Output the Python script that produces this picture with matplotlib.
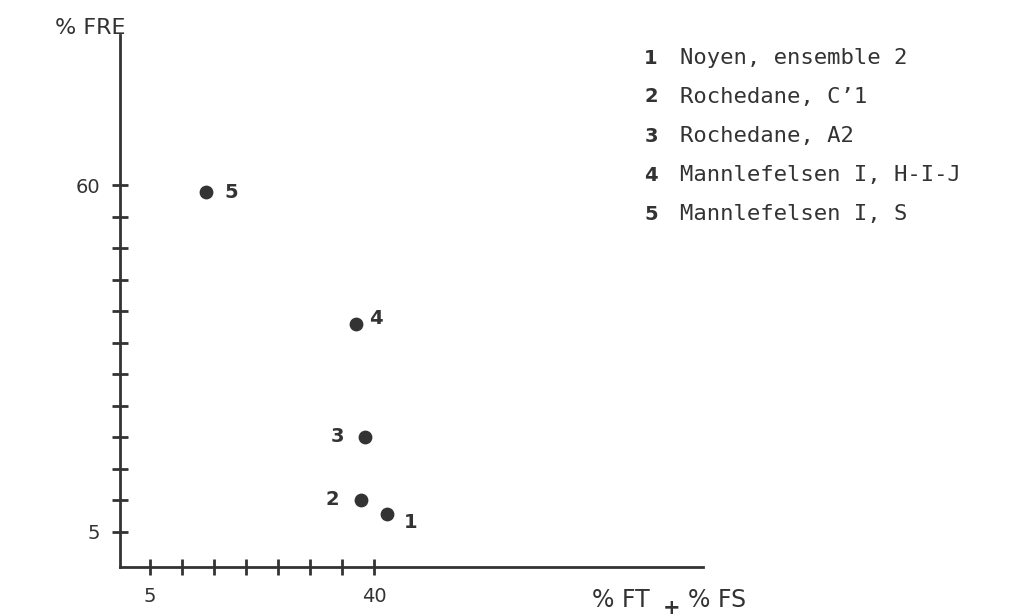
import matplotlib.pyplot as plt

# values
ids = ['1', '2', '3', '4', '5']
sites = ['Noyen, ensemble 2', "Rochedane, C\u20191", 'Rochedane, A2',
         'Mannlefelsen I, H-I-J', 'Mannlefelsen I, S']
ft_fs = [42.1, 37.9, 38.6, 37.2, 13.8]
fre = [7.8, 10.1, 20.1, 37.9, 58.9]
# offsets of the point numbers (points)
lab_dx = [16.5, -20, -19.5, 14.5, 18]
lab_dy = [-6, 0, 0, 4.5, 0]

x_ticks = list(range(5, 41, 5))
y_ticks = list(range(5, 61, 5))

ink = '#333333'

fig = plt.figure(figsize=(10.14, 6.16), dpi=100)
ax = fig.add_axes([120/1014, 49/616, 583/1014, 532/616])
ax.set_xlim(0.4, 91.3)
ax.set_ylim(-0.56, 83.8)

for s in ['top', 'right']:
    ax.spines[s].set_visible(False)
for s in ['left', 'bottom']:
    ax.spines[s].set_linewidth(2)
    ax.spines[s].set_color(ink)

ax.set_xticks(x_ticks)
ax.set_xticklabels(['5' if t == 5 else '40' if t == 40 else '' for t in x_ticks])
ax.set_yticks(y_ticks)
ax.set_yticklabels(['5' if t == 5 else '60' if t == 60 else '' for t in y_ticks])
ax.tick_params(direction='inout', length=11, width=2, color=ink,
               labelsize=14, labelcolor=ink)
ax.tick_params(axis='y', pad=9)
ax.tick_params(axis='x', pad=9)

ax.scatter(ft_fs, fre, s=80, color=ink, zorder=3, clip_on=False)
for i in range(len(ids)):
    ax.annotate(ids[i], (ft_fs[i], fre[i]), xytext=(lab_dx[i], lab_dy[i]),
                textcoords='offset points', ha='center', va='center',
                fontsize=14, color=ink, fontweight='bold')

# axis titles
fig.text(55/1014, 1 - 28/616, '% FRE', fontsize=16, color=ink, va='center', ha='left')
fig.text(592/1014, 1 - 600/616, '% FT', fontsize=17, color=ink, va='center', ha='left')
fig.text(672/1014, 1 - 608/616, '+', fontsize=15, color=ink, va='center', ha='center',
         fontweight='bold')
fig.text(688/1014, 1 - 600/616, '% FS', fontsize=17, color=ink, va='center', ha='left')

# key
for i in range(len(ids)):
    y = 1 - (58 + i * 39) / 616
    fig.text(651/1014, y, ids[i], fontsize=14, color=ink, fontweight='bold',
             va='center', ha='center')
    fig.text(680/1014, y, sites[i], fontsize=16, color=ink,
             family='DejaVu Sans Mono', va='center', ha='left')

fig.savefig('out.png', dpi=100)
